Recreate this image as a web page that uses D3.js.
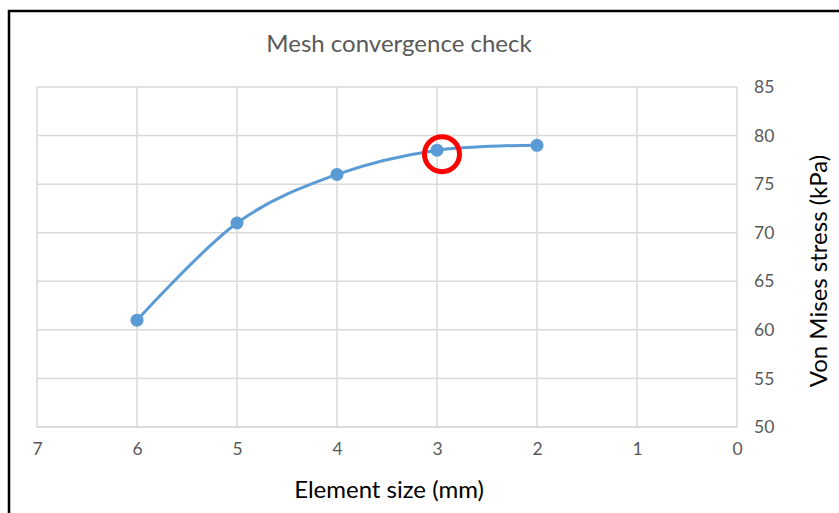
<!DOCTYPE html>
<html>
<head>
<meta charset="utf-8">
<script src="https://cdn.jsdelivr.net/npm/d3@7"></script>
<style>
  body { margin: 0; background: #fff; }
  text { font-family: Lato, "Noto Sans", sans-serif; }
</style>
</head>
<body>
<div id="chart"></div>
<script>
let width = 839,
	height = 513;

// data
let elementSize = [6, 5, 4, 3, 2];
let stress = [61, 71, 76, 78.5, 79];
let xTicks = [7, 6, 5, 4, 3, 2, 1, 0];
let yTicks = [50, 55, 60, 65, 70, 75, 80, 85];
let highlight = [3]; // element size circled in red

let svg = d3.select('#chart').append('svg')
	.attr('width', width)
	.attr('height', height)

// outer frame (cropped on right and bottom)
svg.append('path')
	.attr('d', 'M9,' + (height + 5) + 'V11H' + (width + 5))
	.attr('fill', 'none')
	.attr('stroke', '#000')
	.attr('stroke-width', 2.5)

// scales, reversed x as in the original
let x = d3.scaleLinear()
	.domain([7, 0])
	.range([37, 737]);

let y = d3.scaleLinear()
	.domain([50, 85])
	.range([427, 87]);

// grid
svg.append('g').selectAll('line')
	.data(xTicks)
	.enter().append('line')
	.attr('x1', d => x(d)).attr('x2', d => x(d))
	.attr('y1', y(85)).attr('y2', y(50))
	.attr('stroke', '#d9d9d9')
	.attr('stroke-width', 1.5)

svg.append('g').selectAll('line')
	.data(yTicks)
	.enter().append('line')
	.attr('x1', x(7)).attr('x2', x(0))
	.attr('y1', d => y(d)).attr('y2', d => y(d))
	.attr('stroke', d => d === 50 ? '#cfcfcf' : '#d9d9d9')
	.attr('stroke-width', 1.5)

// axes (labels only)
let xAxis = d3.axisBottom(x).tickValues(xTicks).tickFormat(d3.format('d')).tickSize(0).tickPadding(0);
let yAxis = d3.axisRight(y).tickValues(yTicks).tickFormat(d3.format('d')).tickSize(0).tickPadding(0);

let gx = svg.append('g')
	.attr('transform', 'translate(0,' + (y(50) + 16) + ')')
	.call(xAxis);
gx.select('.domain').remove();
gx.selectAll('text')
	.attr('font-size', 17.5)
	.attr('fill', '#595959')
	.style('font-family', 'Lato, "Noto Sans", sans-serif')

let gy = svg.append('g')
	.attr('transform', 'translate(' + (x(0) + 17) + ',0)')
	.call(yAxis);
gy.select('.domain').remove();
gy.selectAll('text')
	.attr('font-size', 17.5)
	.attr('fill', '#595959')
	.style('font-family', 'Lato, "Noto Sans", sans-serif')

// titles
svg.append('text')
	.attr('x', 399).attr('y', 52)
	.attr('text-anchor', 'middle')
	.attr('font-size', 24)
	.attr('fill', '#595959')
	.text('Mesh convergence check')

svg.append('text')
	.attr('x', 389).attr('y', 498)
	.attr('text-anchor', 'middle')
	.attr('font-size', 24)
	.attr('fill', '#000')
	.text('Element size (mm)')

svg.append('text')
	.attr('transform', 'translate(827,271) rotate(-90)')
	.attr('text-anchor', 'middle')
	.attr('font-size', 24)
	.attr('fill', '#000')
	.text('Von Mises stress (kPa)')

// series
let points = elementSize.map((d, i) => ({ x: d, y: stress[i] }));

let line = d3.line()
	.x(d => x(d.x))
	.y(d => y(d.y))
	.curve(d3.curveCardinal.tension(0));

svg.append('path')
	.datum(points)
	.attr('d', line)
	.attr('fill', 'none')
	.attr('stroke', '#5b9bd5')
	.attr('stroke-width', 3)

svg.selectAll('.pt')
	.data(points)
	.enter().append('circle').classed('pt', true)
	.attr('cx', d => x(d.x))
	.attr('cy', d => y(d.y))
	.attr('r', 6.5)
	.attr('fill', '#5b9bd5')

// red annotation circle
svg.selectAll('.hl')
	.data(points.filter(d => highlight.includes(d.x)))
	.enter().append('circle').classed('hl', true)
	.attr('cx', d => x(d.x) + 5)
	.attr('cy', d => y(d.y) + 4)
	.attr('r', 17.5)
	.attr('fill', 'none')
	.attr('stroke', '#ff0000')
	.attr('stroke-width', 5)
</script>
</body>
</html>
